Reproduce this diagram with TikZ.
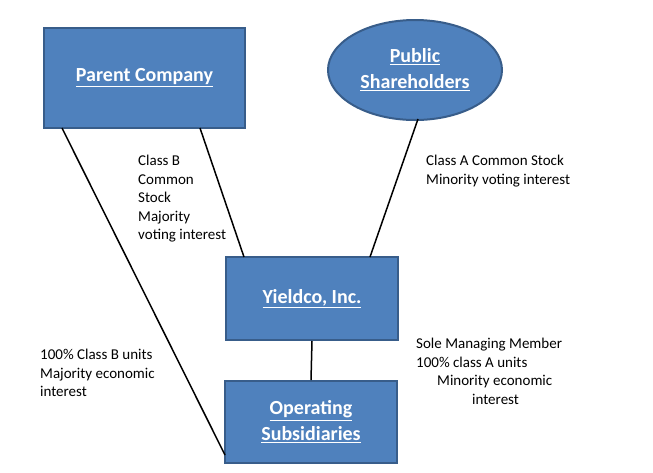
\documentclass[tikz,border=0pt]{standalone}
\usepackage{fontspec}
\setmainfont{Carlito}
\usetikzlibrary{shapes.geometric,positioning}
\definecolor{boxfill}{HTML}{4F81BD}
\definecolor{boxline}{HTML}{385D8A}
\tikzset{
  entity/.style={draw=boxline,line width=2pt,fill=boxfill,text=white,
    font=\fontsize{20}{24}\selectfont\bfseries,align=center},
  note/.style={font=\fontsize{15}{18.5}\selectfont,align=left,anchor=north west,inner sep=0pt},
  link/.style={line width=1.5pt}
}
\begin{document}
\begin{tikzpicture}[x=1pt,y=-1pt]
\useasboundingbox (0,0) rectangle (653,472);
% entities
\node[entity,minimum width=201pt,minimum height=100pt] (parent) at (144.5,78) {\underline{Parent Company}};
\node[entity,ellipse,minimum width=174pt,minimum height=100pt,inner sep=0pt] (public) at (415,70) {\underline{Public}\\[2pt]\underline{Shareholders}};
\node[entity,minimum width=172pt,minimum height=83pt] (yieldco) at (312,298.5) {\underline{Yieldco, Inc.}};
\node[entity,minimum width=172pt,minimum height=82pt] (opsub) at (311,422) {\underline{Operating}\\[2pt]\underline{Subsidiaries}};
% connectors
\coordinate (p1) at (62,128);
\coordinate (p2) at (200,128);
\coordinate (o1) at (225,455);
\coordinate (y1) at (244,257);
\coordinate (e1) at (418,119);
\coordinate (y2) at (370,257);
\draw[link] (p1) -- (o1);
\draw[link] (p2) -- (y1);
\draw[link] (e1) -- (y2);
\draw[link] (yieldco.south) -- (opsub.north);
% labels
\node[note] (lblB) at (138,155) {Class B\\Common\\Stock\\Majority\\voting interest};
\node[note] (lblA) at (426,155) {Class A Common Stock\\Minority voting interest};
\node[note] (lblU) at (40,349) {100\% Class B units\\Majority economic\\interest};
\node[note] (lblS) at (416,338) {Sole Managing Member\\100\% class A units\\\hspace*{21pt}Minority economic\\\hspace*{56pt}interest};
\end{tikzpicture}
\end{document}
